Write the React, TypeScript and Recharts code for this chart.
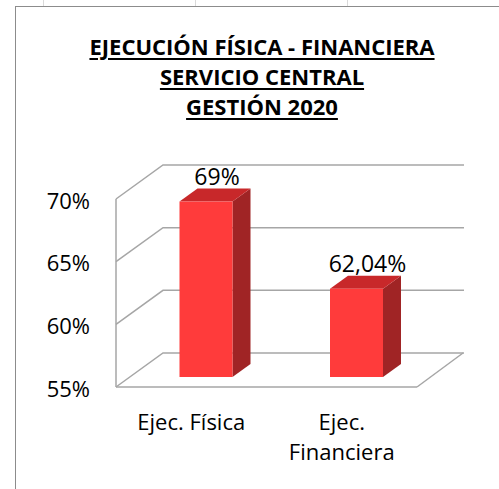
import React from "react";
import {
  BarChart,
  Bar,
  XAxis,
  YAxis,
  CartesianGrid,
  LabelList
} from "recharts";

const categories = ["Ejec. Física", "Ejec. Financiera"];
const categoryLines = [["Ejec. Física"], ["Ejec.", "Financiera"]];
const values = [69, 62.04];
const valueLabels = ["69%", "62,04%"];
const yTicks = [55, 60, 65, 70];
const titleLines = [
  "EJECUCIÓN FÍSICA - FINANCIERA",
  "SERVICIO CENTRAL",
  "GESTIÓN 2020"
];

const data = categories.map((name, i) => ({
  name,
  value: values[i],
  label: valueLabels[i]
}));

const W = 499;
const H = 489;
const X_AXIS_H = 30;
const margin = { top: 199, right: 82, bottom: 72, left: 0 };
const plotBottom = H - margin.bottom - X_AXIS_H;

// depth of the back wall and of the bars
const WALL_DX = 47;
const WALL_DY = -34;
const BAR_OFF_X = 14.5;
const BAR_OFF_Y = -10;
const BAR_DX = 18;
const BAR_DY = -13;

const font = "'Open Sans', sans-serif";
const gridColor = "#A6A6A6";

const GridLine = (props: any) => {
  const { x1, y1, x2 } = props;
  const pts = `${x1},${y1} ${x1 + WALL_DX},${y1 + WALL_DY} ${x2 + WALL_DX},${y1 + WALL_DY}`;
  const isFloor = Math.abs(y1 - plotBottom) < 1;
  return (
    <g>
      <polyline points={pts} fill="none" stroke={gridColor} strokeWidth={1.5} />
      {isFloor && (
        <line
          x1={x2}
          y1={y1}
          x2={x2 + WALL_DX - 1}
          y2={y1 + WALL_DY}
          stroke={gridColor}
          strokeWidth={1.5}
        />
      )}
    </g>
  );
};

const Bar3D = (props: any) => {
  const { x, y, width, height } = props;
  const fx = x + BAR_OFF_X;
  const fy = y + BAR_OFF_Y;
  const top = `${fx},${fy} ${fx + BAR_DX},${fy + BAR_DY} ${fx + width + BAR_DX},${fy + BAR_DY} ${fx + width},${fy}`;
  const side = `${fx + width},${fy} ${fx + width + BAR_DX},${fy + BAR_DY} ${fx + width + BAR_DX},${fy + height + BAR_DY} ${fx + width},${fy + height}`;
  return (
    <g>
      <polygon points={side} fill="#A02425" />
      <polygon points={top} fill="#C8282A" />
      <rect x={fx} y={fy} width={width} height={height} fill="#FF3B3B" />
    </g>
  );
};

const ValueLabel = (props: any) => {
  const { x, y, width, value } = props;
  return (
    <text
      x={x + width / 2 + BAR_OFF_X + 11}
      y={y + BAR_OFF_Y + BAR_DY - 4}
      textAnchor="middle"
      fontFamily={font}
      fontSize={23}
      fill="#000"
    >
      {value}
    </text>
  );
};

const XTick = (props: any) => {
  const { x, payload } = props;
  const idx = categories.indexOf(payload.value);
  const lines = idx >= 0 ? categoryLines[idx] : [payload.value];
  return (
    <text
      x={x}
      y={plotBottom + 43}
      textAnchor="middle"
      fontFamily={font}
      fontSize={22}
      fill="#000"
    >
      {lines.map((l: string, i: number) => (
        <tspan key={l} x={x} dy={i === 0 ? 0 : 30}>
          {l}
        </tspan>
      ))}
    </text>
  );
};

export default function App() {
  return (
    <div
      style={{
        position: "absolute",
        left: 0,
        top: 0,
        width: W,
        height: H,
        background: "#fff",
        overflow: "hidden"
      }}
    >
      {[43, 195, 347].map((cx) => (
        <div
          key={cx}
          style={{
            position: "absolute",
            left: cx,
            top: 0,
            width: 1,
            height: 6,
            background: "#DADADA"
          }}
        />
      ))}
      <div
        style={{
          position: "absolute",
          left: 15,
          top: 6,
          width: W,
          height: H,
          borderLeft: "1.5px solid #8C8C8C",
          borderTop: "1.5px solid #8C8C8C"
        }}
      />
      <div
        style={{
          position: "absolute",
          left: 62,
          top: 31,
          width: 400,
          textAlign: "center",
          fontFamily: font,
          fontWeight: 700,
          fontSize: 22,
          lineHeight: "30px",
          color: "#000"
        }}
      >
        {titleLines.map((t) => (
          <div key={t} style={{ whiteSpace: "nowrap" }}>
            <span style={{ textDecoration: "underline", textDecorationThickness: 2, textUnderlineOffset: 3 }}>{t}</span>
          </div>
        ))}
      </div>
      <div style={{ position: "absolute", left: 0, top: 0 }}>
        <BarChart width={W} height={H} data={data} margin={margin}>
          <CartesianGrid
            vertical={false}
            horizontal={(p: any) => <GridLine key={`g-${p.y1}`} {...p} />}
          />
          <XAxis
            dataKey="name"
            height={X_AXIS_H}
            axisLine={{ stroke: gridColor, strokeWidth: 1.5 }}
            tickLine={false}
            tickSize={0}
            interval={0}
            tick={<XTick />}
          />
          <YAxis
            width={116}
            domain={[55, 70]}
            ticks={yTicks}
            tickFormatter={(v) => `${v}%`}
            axisLine={{ stroke: gridColor, strokeWidth: 1.5 }}
            tickLine={false}
            tickSize={0}
            tickMargin={26}
            tick={{ fill: "#000", fontSize: 22, fontFamily: font, dy: 2 }}
          />
          <Bar
            dataKey="value"
            barSize={53}
            isAnimationActive={false}
            shape={<Bar3D />}
          >
            <LabelList dataKey="label" content={<ValueLabel />} />
          </Bar>
        </BarChart>
      </div>
    </div>
  );
}
